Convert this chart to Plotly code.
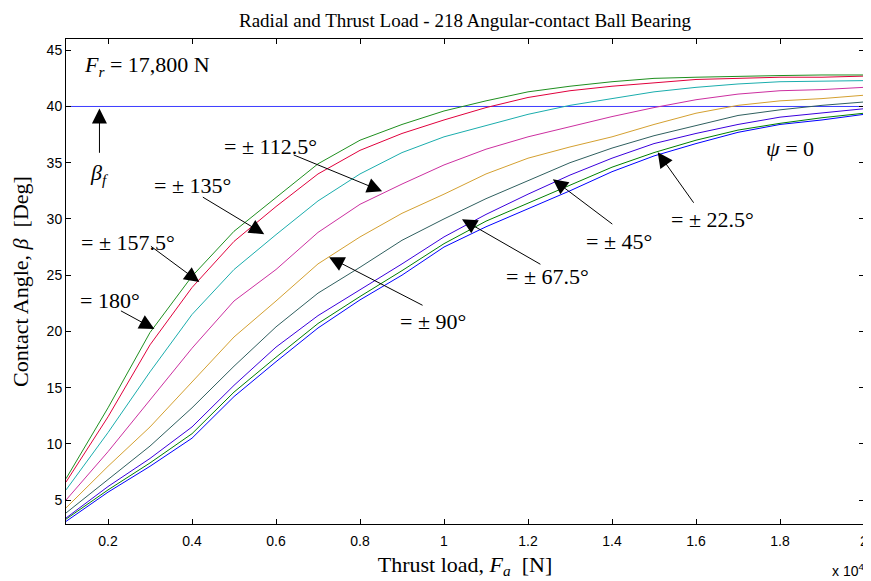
import plotly.graph_objects as go

# ---------------- data ----------------
thrust_load = [1000, 2000, 3000, 4000, 5000, 6000, 7000, 8000, 9000, 10000,
               11000, 12000, 13000, 14000, 15000, 16000, 17000, 18000, 19000, 20000]

beta_psi_180 = [6.9, 13.2, 19.9, 24.9, 28.9, 31.9, 34.9, 37.0, 38.4, 39.6,
                40.5, 41.3, 41.8, 42.2, 42.5, 42.6, 42.7, 42.75, 42.8, 42.8]
beta_psi_157 = [6.6, 12.4, 18.8, 23.9, 28.0, 31.1, 34.0, 36.1, 37.6, 38.8,
                39.9, 40.8, 41.4, 41.8, 42.1, 42.4, 42.5, 42.6, 42.6, 42.7]
beta_psi_135 = [5.9, 11.0, 16.4, 21.5, 25.5, 28.6, 31.6, 34.0, 35.9, 37.3,
                38.3, 39.3, 40.1, 40.7, 41.3, 41.7, 42.0, 42.2, 42.25, 42.3]
beta_psi_112 = [5.0, 9.3, 13.9, 18.5, 22.7, 25.5, 28.8, 31.3, 33.1, 34.8,
                36.2, 37.3, 38.2, 39.1, 39.9, 40.6, 41.1, 41.4, 41.5, 41.7]
beta_psi_90 = [4.3, 8.0, 11.5, 15.5, 19.5, 22.7, 26.0, 28.4, 30.5, 32.2,
               34.0, 35.4, 36.4, 37.3, 38.4, 39.4, 40.1, 40.5, 40.7, 41.0]
beta_psi_67 = [3.85, 6.8, 9.8, 13.2, 16.9, 20.4, 23.4, 25.7, 28.1, 30.0,
               31.8, 33.4, 35.0, 36.3, 37.4, 38.3, 39.2, 39.7, 40.1, 40.4]
beta_psi_45 = [3.4, 6.2, 8.7, 11.5, 15.2, 18.6, 21.4, 23.7, 26.0, 28.4,
               30.4, 32.2, 33.9, 35.4, 36.7, 37.6, 38.4, 39.05, 39.4, 39.8]
beta_psi_22 = [3.3, 5.9, 8.3, 10.9, 14.6, 17.7, 20.7, 23.1, 25.4, 27.8,
               29.8, 31.4, 33.0, 34.6, 35.9, 37.0, 37.9, 38.5, 39.0, 39.4]
beta_psi_0 = [3.1, 5.7, 8.0, 10.5, 14.2, 17.3, 20.3, 22.8, 25.0, 27.5,
              29.3, 30.9, 32.5, 34.2, 35.6, 36.7, 37.7, 38.4, 38.8, 39.3]

beta_f = 40
x_tick_vals = [2000, 4000, 6000, 8000, 10000, 12000, 14000, 16000, 18000, 20000]
x_tick_text = ["0.2", "0.4", "0.6", "0.8", "1", "1.2", "1.4", "1.6", "1.8", "2"]
y_tick_vals = [5, 10, 15, 20, 25, 30, 35, 40, 45]

series = [
    (beta_psi_0, "#0000ff"),
    (beta_psi_22, "#008000"),
    (beta_psi_45, "#3a00dd"),
    (beta_psi_67, "#2f5f5f"),
    (beta_psi_90, "#d4a030"),
    (beta_psi_112, "#cc2fa0"),
    (beta_psi_135, "#1aadad"),
    (beta_psi_157, "#e0003c"),
    (beta_psi_180, "#1f8f1f"),
]

# ---------------- figure ----------------
X0, X1 = 1000, 20000
Y0, Y1 = 2.87, 46.0
# axes box in page pixels (browser window 871x581, body margin 8px)
L, R, T, B = 65.5, 864.5, 38.5, 524.3
OFF = 8
PW, PH = 871, 581
W, H = PW - OFF, PH - OFF


def px2x(px):
    return X0 + (px - L) / (R - L) * (X1 - X0)


def py2y(py):
    return Y1 - (py - T) / (B - T) * (Y1 - Y0)


fig = go.Figure()
fig.add_trace(go.Scatter(x=[X0, X1], y=[beta_f, beta_f], mode="lines",
                         line=dict(color="#3c3cff", width=1), showlegend=False,
                         hoverinfo="skip"))
for vals, col in series:
    fig.add_trace(go.Scatter(x=thrust_load, y=vals, mode="lines",
                             line=dict(color=col, width=1), showlegend=False))

serif = "Liberation Serif, Times New Roman, serif"
sans = "Liberation Sans, Arial, sans-serif"

annotations = []


def text(px, py, s, size=22):
    annotations.append(dict(x=px2x(px), y=py2y(py), xref="x", yref="y", text=s,
                            showarrow=False, font=dict(family=serif, size=size, color="black"),
                            xanchor="center", yanchor="middle"))


def arrow(tail, tip):
    annotations.append(dict(x=px2x(tip[0]), y=py2y(tip[1]), ax=px2x(tail[0]), ay=py2y(tail[1]),
                            xref="x", yref="y", axref="x", ayref="y", text="",
                            showarrow=True, arrowhead=2, arrowsize=3, arrowwidth=1,
                            arrowcolor="black", standoff=0, startstandoff=0))


text(147, 66, "<i>F</i><sub><i>r</i></sub> = 17,800 N", 22)
text(99, 174, "<i>β</i><sub><i>f</i></sub>", 22)
arrow((99, 154), (99, 108))

text(270, 146, "= ± 112.5°")
arrow((292, 154), (382, 191))
text(192, 185, "= ± 135°")
arrow((201, 196), (264, 234))
text(128, 242, "= ± 157.5°")
arrow((149, 245), (199, 282))
text(110, 300, "= 180°")
arrow((119, 310), (154, 329))
text(433, 321, "= ± 90°")
arrow((424, 306), (329, 257))
text(548, 276, "= ± 67.5°")
arrow((542, 265), (462, 219))
text(619, 241, "= ± 45°")
arrow((614, 225), (553, 179))
text(713, 219, "= ± 22.5°")
arrow((695, 204), (658, 152))
text(790, 148, "<i>ψ</i> = 0")

# exponent label below the x axis (paper coords are relative to the plot area)
annotations.append(dict(x=(867 - L) / (R - L), y=(B - 570) / (B - T), xref="paper", yref="paper",
                        text="x 10<sup>4</sup>", showarrow=False, xanchor="right",
                        yanchor="middle", font=dict(family=sans, size=14, color="black")))

axis_common = dict(showline=True, linecolor="black", linewidth=1, mirror="ticks",
                   ticks="inside", ticklen=5, tickcolor="black", showgrid=False,
                   zeroline=False, tickfont=dict(family=sans, size=14, color="black"))

fig.update_layout(
    width=W, height=H,
    margin=dict(l=L - OFF, r=PW - R, t=T - OFF, b=PH - B, autoexpand=False),
    paper_bgcolor="white", plot_bgcolor="white",
    title=dict(text="Radial and Thrust Load - 218 Angular-contact Ball Bearing",
               x=((L + R) / 2 - OFF) / W, xanchor="center", y=1 - (20 - OFF) / H,
               yanchor="middle", font=dict(family=serif, size=19, color="black")),
    xaxis=dict(range=[X0 - 0.01, X1 + 0.01], tickvals=x_tick_vals, ticktext=x_tick_text,
               ticklabelstandoff=4,
               title=dict(text="Thrust load, <i>F</i><sub><i>a</i></sub>  [N]",
                          font=dict(family=serif, size=22, color="black"), standoff=8),
               **axis_common),
    yaxis=dict(range=[Y0, Y1], tickvals=y_tick_vals,
               title=dict(text="Contact Angle, <i>β</i>  [Deg]",
                          font=dict(family=serif, size=22, color="black"), standoff=15),
               **axis_common),
    annotations=annotations,
    showlegend=False,
)

fig.write_html("out.html")
